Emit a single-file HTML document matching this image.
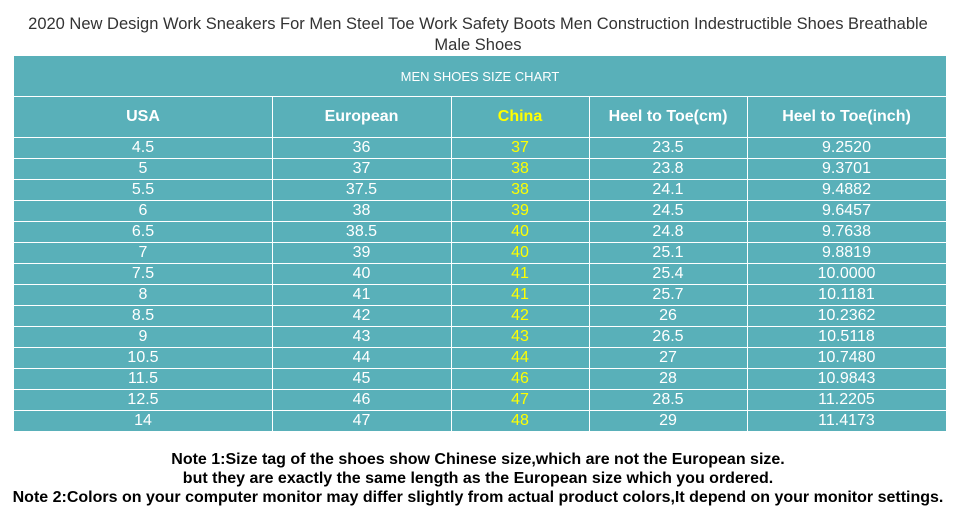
<!DOCTYPE html>
<html><head><meta charset="utf-8"><style>
body{margin:0;width:956px;height:509px;background:#fff;position:relative;font-family:"Liberation Sans",Arial,sans-serif;overflow:hidden}
.t{position:absolute;left:0;width:956px;text-align:center;font-size:16.5px;color:#333;line-height:21px}
.tbl{position:absolute;left:14px;top:56px;width:932px;height:375px;background:#59b0b9}
.h{position:absolute;left:0;top:0;width:932px;height:41px;line-height:41px;text-align:center;color:#fff;font-size:13px;border-bottom:1px solid #fff;box-sizing:border-box}
.hl{position:absolute;left:0;width:932px;height:1px;background:#fff}
.vl{position:absolute;top:41px;width:1px;height:334px;background:#fff}
.c{position:absolute;text-align:center;color:#fff;font-size:16px;height:21px;line-height:21px}
.hd{font-weight:bold;font-size:16px;height:40px;line-height:40px}
.y{color:#ffff00}
.n{position:absolute;left:0;width:956px;text-align:center;font-weight:bold;font-size:16px;color:#000;line-height:19px}
</style></head><body>
<div class="t" style="top:14px">2020 New Design Work Sneakers For Men Steel Toe Work Safety Boots Men Construction Indestructible Shoes Breathable</div>
<div class="t" style="top:35px">Male Shoes</div>
<div class="tbl">
<div class="h">MEN SHOES SIZE CHART</div>
<div id="g"></div>
</div>
<div class="n" style="top:450px">Note 1:Size tag of the shoes show Chinese size,which are not the European size.</div>
<div class="n" style="top:469px">but they are exactly the same length as the European size which you ordered.</div>
<div class="n" style="top:488px">Note 2:Colors on your computer monitor may differ slightly from actual product colors,It depend on your monitor settings.</div>
<script>
var cols=[0,258,437,575,733,932];
var data=[["4.5","36","37","23.5","9.2520"],["5","37","38","23.8","9.3701"],["5.5","37.5","38","24.1","9.4882"],["6","38","39","24.5","9.6457"],["6.5","38.5","40","24.8","9.7638"],["7","39","40","25.1","9.8819"],["7.5","40","41","25.4","10.0000"],["8","41","41","25.7","10.1181"],["8.5","42","42","26","10.2362"],["9","43","43","26.5","10.5118"],["10.5","44","44","27","10.7480"],["11.5","45","46","28","10.9843"],["12.5","46","47","28.5","11.2205"],["14","47","48","29","11.4173"]];
var hd=["USA","European","China","Heel to Toe(cm)","Heel to Toe(inch)"];
var h="";
for(var i=1;i<5;i++)h+='<div class="vl" style="left:'+cols[i]+'px"></div>';
h+='<div class="hl" style="top:81px"></div>';
for(var r=1;r<14;r++)h+='<div class="hl" style="top:'+(81+r*21)+'px"></div>';
for(var c=0;c<5;c++){h+='<div class="c hd'+(c==2?' y':'')+'" style="left:'+cols[c]+'px;width:'+(cols[c+1]-cols[c])+'px;top:41px">'+hd[c]+'</div>';
for(var r=0;r<14;r++)h+='<div class="c'+(c==2?' y':'')+'" style="left:'+cols[c]+'px;width:'+(cols[c+1]-cols[c])+'px;top:'+(81+r*21)+'px">'+data[r][c]+'</div>';}
document.getElementById("g").innerHTML=h;
</script>
</body></html>
